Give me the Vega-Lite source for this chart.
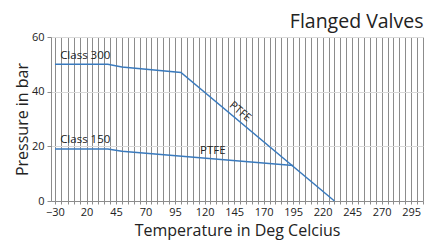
{
  "$schema": "https://vega.github.io/schema/vega-lite/v6.json",
  "width": 372,
  "height": 164,
  "padding": {"left": 14, "top": 11, "right": 8, "bottom": 5},
  "background": "white",
  "title": {"text": "Flanged Valves", "anchor": "end", "fontSize": 19.5, "fontWeight": "normal", "font": "Open Sans", "color": "#222222", "offset": -1},
  "config": {"view": {"stroke": null}, "font": "Open Sans"},
  "datasets": {
    "lines": [
      {"series": "Class 300", "t": -30, "p": 50},
      {"series": "Class 300", "t": 38, "p": 50},
      {"series": "Class 300", "t": 50, "p": 49},
      {"series": "Class 300", "t": 100, "p": 47},
      {"series": "Class 300", "t": 230, "p": 0},
      {"series": "Class 150", "t": -30, "p": 19},
      {"series": "Class 150", "t": 38, "p": 19},
      {"series": "Class 150", "t": 50, "p": 18.2},
      {"series": "Class 150", "t": 195, "p": 13}
    ],
    "flat": [
      {"label": "Class 300", "t": 18, "p": 53},
      {"label": "Class 150", "t": 18, "p": 22.3},
      {"label": "PTFE", "t": 127, "p": 18.3}
    ],
    "slanted": [
      {"label": "PTFE", "t": 150, "p": 32.6}
    ]
  },
  "layer": [
    {
      "data": {"name": "lines"},
      "mark": {"type": "line", "color": "#3a7abd", "strokeWidth": 1.5},
      "encoding": {
        "x": {
          "field": "t", "type": "quantitative",
          "scale": {"domain": [-36.3, 20, 305], "range": [0, 35.5, 372], "nice": false, "zero": false},
          "axis": {
            "values": [-30,-20,-10,0,10,20,25,30,35,40,45,50,55,60,65,70,75,80,85,90,95,100,105,110,115,120,125,130,135,140,145,150,155,160,165,170,175,180,185,190,195,200,205,210,215,220,225,230,235,240,245,250,255,260,265,270,275,280,285,290,295,300,305],
            "tickCount": 200,
            "labelExpr": "indexof([-30,20,45,70,95,120,145,170,195,220,245,270,295], datum.value) >= 0 ? datum.label : ''",
            "labelOverlap": false,
            "labelFontSize": 11,
            "labelColor": "#222222",
            "grid": true,
            "gridColor": "#8c8c8c",
            "gridOpacity": 1,
            "domainColor": "#8c8c8c",
            "tickColor": "#8c8c8c",
            "tickSize": 3,
            "labelPadding": 2,
            "title": "Temperature in Deg Celcius",
            "titleFontSize": 16,
            "titleFontWeight": "normal",
            "titleColor": "#222222",
            "titlePadding": 5
          }
        },
        "y": {
          "field": "p", "type": "quantitative",
          "scale": {"domain": [0, 60], "nice": false},
          "axis": {
            "values": [0, 10, 20, 30, 40, 50, 60],
            "labelFontSize": 11,
            "labelColor": "#222222",
            "grid": true,
            "gridColor": "#d9d9d9",
            "gridOpacity": 1,
            "domainColor": "#8c8c8c",
            "tickColor": "#8c8c8c",
            "tickSize": 4,
            "labelPadding": 3,
            "title": "Pressure in bar",
            "titleFontSize": 16,
            "titleFontWeight": "normal",
            "titleColor": "#222222",
            "titlePadding": 1
          }
        },
        "detail": {"field": "series"}
      }
    },
    {
      "data": {"name": "flat"},
      "mark": {"type": "text", "fontSize": 11.5, "color": "#222222", "baseline": "middle", "align": "center"},
      "encoding": {
        "x": {"field": "t", "type": "quantitative"},
        "y": {"field": "p", "type": "quantitative"},
        "text": {"field": "label"}
      }
    },
    {
      "data": {"name": "slanted"},
      "mark": {"type": "text", "fontSize": 11, "color": "#222222", "baseline": "middle", "align": "center", "angle": 40},
      "encoding": {
        "x": {"field": "t", "type": "quantitative"},
        "y": {"field": "p", "type": "quantitative"},
        "text": {"field": "label"}
      }
    }
  ]
}
